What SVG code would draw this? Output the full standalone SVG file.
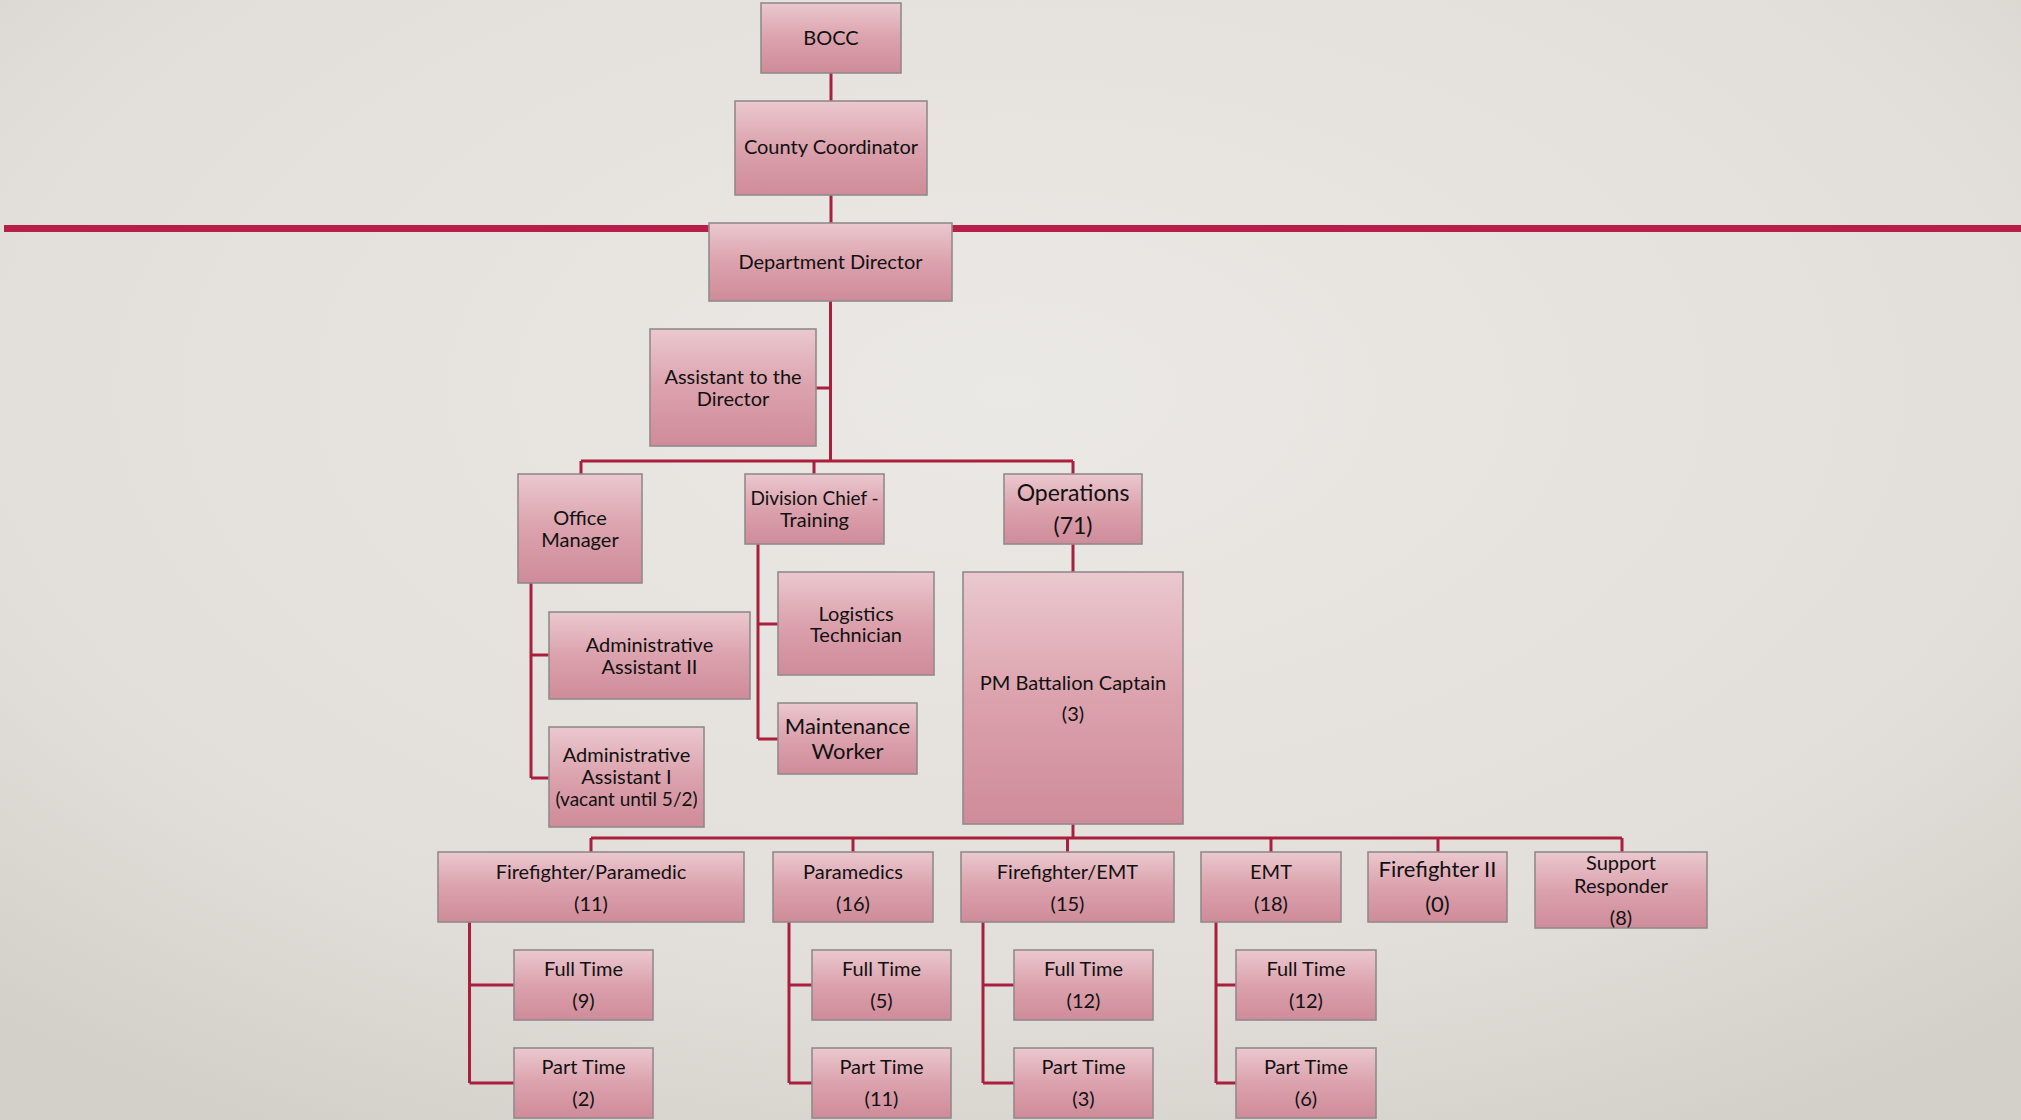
<svg xmlns="http://www.w3.org/2000/svg" width="2021" height="1120" viewBox="0 0 2021 1120">
<defs>
<radialGradient id="bg" cx="50%" cy="35%" r="75%">
<stop offset="0" stop-color="#ebe9e5"/>
<stop offset="0.7" stop-color="#e2dfda"/>
<stop offset="1" stop-color="#d3cfc9"/>
</radialGradient>
<linearGradient id="box" x1="0" y1="0" x2="0" y2="1">
<stop offset="0" stop-color="#ebc8cf"/>
<stop offset="0.5" stop-color="#dba2ad"/>
<stop offset="1" stop-color="#cf8b99"/>
</linearGradient>
<style>
.n rect{fill:url(#box);stroke:#928a8b;stroke-width:1.6}
.n text{font-family:Lato,"Open Sans","Liberation Sans",sans-serif;font-size:20px;fill:#111;text-anchor:middle}
.n text.b{font-size:23px}
.n text.m{font-size:22px}
.n text.s{font-size:19px}
#connectors path{fill:none;stroke:#a9203f;stroke-width:3}
</style>
</defs>
<rect width="2021" height="1120" fill="url(#bg)"/>
<rect x="4" y="225" width="2017" height="7" fill="#b71f48"/>
<g id="connectors">
<path d="M831,73V101M831,195V223M830.5,301V461M816,388H830.5"/>
<path d="M581,461H1073M581,461V474M814,461V474M1073,461V474M1073,544V572"/>
<path d="M531,583V778M531,655H549M531,778H549"/>
<path d="M758,544V739M758,624H778M758,739H778"/>
<path d="M1073,824V838M591,838H1622M591,838V852M853,838V852M1067.5,838V852M1271,838V852M1438,838V852M1622,838V852"/>
<path d="M469.5,922V1083M469.5,985H514M469.5,1083H514"/>
<path d="M789,922V1083M789,985H812M789,1083H812"/>
<path d="M983,922V1083M983,985H1014M983,1083H1014"/>
<path d="M1216,922V1083M1216,985H1236M1216,1083H1236"/>
</g>
<g id="bocc" class="n"><rect x="761" y="3" width="140" height="70"/><text x="831" y="45">BOCC</text></g>
<g id="county" class="n"><rect x="735" y="101" width="192" height="94"/><text x="831" y="154">County Coordinator</text></g>
<g id="director" class="n"><rect x="709" y="223" width="243" height="78"/><text x="830.5" y="269">Department Director</text></g>
<g id="assistant" class="n"><rect x="650" y="329" width="166" height="117"/><text x="733" y="384">Assistant to the</text><text x="733" y="406">Director</text></g>
<g id="office" class="n"><rect x="518" y="474" width="124" height="109"/><text x="580" y="525">Office</text><text x="580" y="547">Manager</text></g>
<g id="divchief" class="n"><rect x="745" y="474" width="139" height="70"/><text class="s" x="814.5" y="505">Division Chief -</text><text x="814.5" y="527">Training</text></g>
<g id="operations" class="n"><rect x="1004" y="474" width="138" height="70"/><text class="b" x="1073" y="501">Operations</text><text class="b" x="1073" y="534">(71)</text></g>
<g id="logistics" class="n"><rect x="778" y="572" width="156" height="103"/><text x="856" y="621">Logistics</text><text x="856" y="642">Technician</text></g>
<g id="maintenance" class="n"><rect x="778" y="703" width="139" height="71"/><text class="m" x="847.5" y="734">Maintenance</text><text class="m" x="847.5" y="759">Worker</text></g>
<g id="aa2" class="n"><rect x="549" y="612" width="201" height="87"/><text x="649.5" y="652">Administrative</text><text x="649.5" y="674">Assistant II</text></g>
<g id="aa1" class="n"><rect x="549" y="727" width="155" height="100"/><text x="626.5" y="762">Administrative</text><text x="626.5" y="784">Assistant I</text><text class="s" x="626.5" y="806">(vacant until 5/2)</text></g>
<g id="pm" class="n"><rect x="963" y="572" width="220" height="252"/><text x="1073" y="690">PM Battalion Captain</text><text x="1073" y="721">(3)</text></g>
<g id="ffp" class="n"><rect x="438" y="852" width="306" height="70"/><text x="591" y="879">Firefighter/Paramedic</text><text x="591" y="911">(11)</text></g>
<g id="paramedics" class="n"><rect x="773" y="852" width="160" height="70"/><text x="853" y="879">Paramedics</text><text x="853" y="911">(16)</text></g>
<g id="ffemt" class="n"><rect x="961" y="852" width="213" height="70"/><text x="1067.5" y="879">Firefighter/EMT</text><text x="1067.5" y="911">(15)</text></g>
<g id="emt" class="n"><rect x="1201" y="852" width="140" height="70"/><text x="1271" y="879">EMT</text><text x="1271" y="911">(18)</text></g>
<g id="ff2" class="n"><rect x="1368" y="852" width="139" height="70"/><text class="m" x="1437.5" y="877">Firefighter II</text><text class="m" x="1437.5" y="912">(0)</text></g>
<g id="support" class="n"><rect x="1535" y="852" width="172" height="76"/><text x="1621" y="870">Support</text><text x="1621" y="893">Responder</text><text x="1621" y="925">(8)</text></g>
<g id="ffp-ft" class="n"><rect x="514" y="950" width="139" height="70"/><text x="583.5" y="976">Full Time</text><text x="583.5" y="1008">(9)</text></g>
<g id="ffp-pt" class="n"><rect x="514" y="1048" width="139" height="70"/><text x="583.5" y="1074">Part Time</text><text x="583.5" y="1106">(2)</text></g>
<g id="par-ft" class="n"><rect x="812" y="950" width="139" height="70"/><text x="881.5" y="976">Full Time</text><text x="881.5" y="1008">(5)</text></g>
<g id="par-pt" class="n"><rect x="812" y="1048" width="139" height="70"/><text x="881.5" y="1074">Part Time</text><text x="881.5" y="1106">(11)</text></g>
<g id="ffemt-ft" class="n"><rect x="1014" y="950" width="139" height="70"/><text x="1083.5" y="976">Full Time</text><text x="1083.5" y="1008">(12)</text></g>
<g id="ffemt-pt" class="n"><rect x="1014" y="1048" width="139" height="70"/><text x="1083.5" y="1074">Part Time</text><text x="1083.5" y="1106">(3)</text></g>
<g id="emt-ft" class="n"><rect x="1236" y="950" width="140" height="70"/><text x="1306" y="976">Full Time</text><text x="1306" y="1008">(12)</text></g>
<g id="emt-pt" class="n"><rect x="1236" y="1048" width="140" height="70"/><text x="1306" y="1074">Part Time</text><text x="1306" y="1106">(6)</text></g>
</svg>
